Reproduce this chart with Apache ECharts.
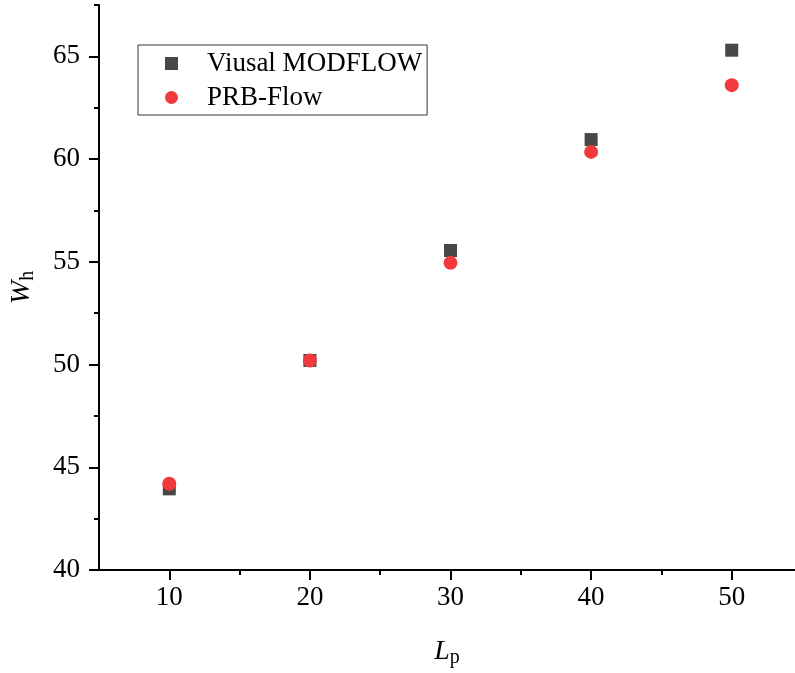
<!DOCTYPE html>
<html>
<head>
<meta charset="utf-8">
<script src="https://cdn.jsdelivr.net/npm/echarts@6/dist/echarts.min.js"></script>
<style>
  html, body { margin: 0; padding: 0; background: #fff; }
  #chart { width: 795px; height: 673px; }
</style>
</head>
<body>
<div id="chart"></div>
<script>
var lpValues = [10, 20, 30, 40, 50];
var modflowWh = [43.95, 50.2, 55.55, 60.95, 65.3];
var prbFlowWh = [44.2, 50.2, 54.95, 60.35, 63.6];
var xMajorTicks = [10, 20, 30, 40, 50];
var xMinorTicks = [15, 25, 35, 45];
var yMajorTicks = [40, 45, 50, 55, 60, 65];
var yMinorTicks = [42.5, 47.5, 52.5, 57.5, 62.5, 67.5];

function pairs(xs, ys) {
  return xs.map(function (x, i) { return [x, ys[i]]; });
}

var serif = '"Liberation Serif", "Times New Roman", serif';
var chart = echarts.init(document.getElementById('chart'));
var option = {
  animation: false,
  backgroundColor: '#fff',
  textStyle: { fontFamily: serif },
  grid: { left: 98, right: 0, top: 5, bottom: 103, containLabel: false },
  legend: {
    orient: 'vertical',
    left: 138,
    top: 45,
    padding: [5, 5, 4, 27],
    borderColor: '#333',
    borderWidth: 1,
    itemWidth: 13,
    itemHeight: 13,
    itemGap: 7,
    textStyle: { fontFamily: serif, fontSize: 27, color: '#000', padding: [0, 0, 0, 24] },
    data: [
      { name: 'Viusal MODFLOW', icon: 'rect' },
      { name: 'PRB-Flow', icon: 'circle' }
    ]
  },
  xAxis: [
    {
      type: 'value',
      min: 5,
      max: 54.5,
      splitLine: { show: false },
      axisLine: { show: true, onZero: false, lineStyle: { color: '#000', width: 2 } },
      axisTick: { show: true, customValues: xMajorTicks, length: 10, lineStyle: { color: '#000', width: 2 } },
      axisLabel: { customValues: xMajorTicks, fontFamily: serif, fontSize: 27, color: '#000', margin: 14 },
      name: '{i|L}{s|p}',
      nameLocation: 'middle',
      nameGap: 66,
      nameTextStyle: {
        rich: {
          i: { fontFamily: serif, fontStyle: 'italic', fontSize: 28, color: '#000' },
          s: { fontFamily: serif, fontSize: 20, color: '#000', padding: [12, 0, 0, 0] }
        }
      }
    },
    {
      type: 'value',
      min: 5,
      max: 54.5,
      position: 'bottom',
      splitLine: { show: false },
      axisLine: { show: false, onZero: false },
      axisTick: { show: true, customValues: xMinorTicks, length: 5, lineStyle: { color: '#000', width: 2 } },
      axisLabel: { show: false }
    }
  ],
  yAxis: [
    {
      type: 'value',
      min: 40,
      max: 67.5,
      splitLine: { show: false },
      axisLine: { show: true, onZero: false, lineStyle: { color: '#000', width: 2 } },
      axisTick: { show: true, customValues: yMajorTicks, length: 10, lineStyle: { color: '#000', width: 2 } },
      axisLabel: { customValues: yMajorTicks, fontFamily: serif, fontSize: 27, color: '#000', margin: 19 },
      name: '{i|W}{s|h}',
      nameLocation: 'middle',
      nameRotate: 90,
      nameGap: 61,
      nameTextStyle: {
        rich: {
          i: { fontFamily: serif, fontStyle: 'italic', fontSize: 28, color: '#000' },
          s: { fontFamily: serif, fontSize: 20, color: '#000', padding: [12, 0, 0, 0] }
        }
      }
    },
    {
      type: 'value',
      min: 40,
      max: 67.5,
      position: 'left',
      splitLine: { show: false },
      axisLine: { show: false, onZero: false },
      axisTick: { show: true, customValues: yMinorTicks, length: 5, lineStyle: { color: '#000', width: 2 } },
      axisLabel: { show: false }
    }
  ],
  series: [
    {
      name: 'Viusal MODFLOW',
      type: 'scatter',
      symbol: 'rect',
      symbolSize: 13,
      itemStyle: { color: '#474747', opacity: 1 },
      data: pairs(lpValues, modflowWh)
    },
    {
      name: 'PRB-Flow',
      type: 'scatter',
      symbol: 'circle',
      symbolSize: 14,
      itemStyle: { color: '#f23a3c', opacity: 1 },
      data: pairs(lpValues, prbFlowWh)
    }
  ]
};
chart.setOption(option);
</script>
</body>
</html>
